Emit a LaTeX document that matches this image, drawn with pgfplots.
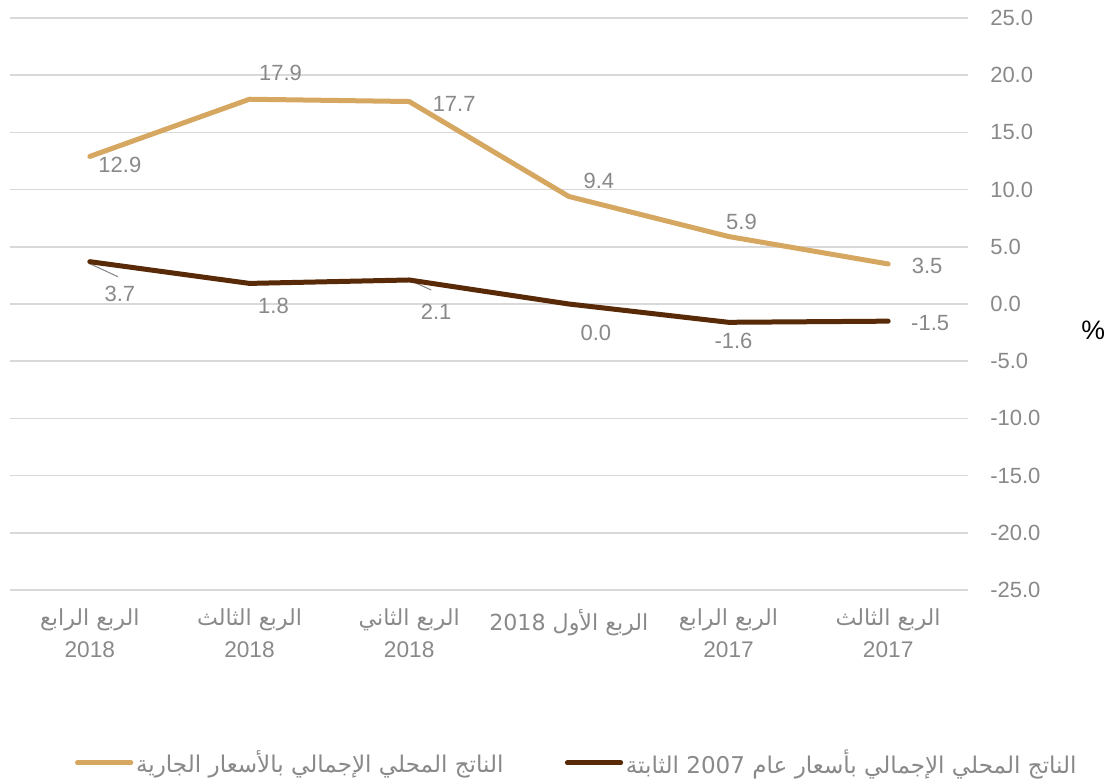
\documentclass[border=0pt]{standalone}
\usepackage{fontspec}
\setmainfont{Liberation Sans}
\newfontfamily\arabicfont[Script=Arabic]{DejaVu Sans}
\usepackage{pgfplots}
\pgfplotsset{compat=1.18}
\TeXXeTstate=1

\definecolor{curcol}{RGB}{213,167,97}
\definecolor{constcol}{RGB}{88,42,8}
\definecolor{lbl}{RGB}{137,137,137}
\definecolor{gridc}{RGB}{217,217,217}

\newcommand{\yr}[1]{{\fontsize{17}{22.5}\selectfont #1}}

\begin{document}
\begin{tikzpicture}
\useasboundingbox (-7.5pt,-144pt) rectangle (829.5pt,442.5pt);
\begin{axis}[
  scale only axis, width=718.5pt, height=429pt,
  xmin=-0.5, xmax=5.5, ymin=-25, ymax=25,
  clip=false,
  ytick={-25,-20,...,25},
  xtick={0,...,5},
  xticklabels={
    {{\arabicfont\beginR الربع الرابع\endR}\\\yr{2018}},
    {{\arabicfont\beginR الربع الثالث\endR}\\\yr{2018}},
    {{\arabicfont\beginR الربع الثاني\endR}\\\yr{2018}},
    {{\arabicfont\beginR الربع الأول \beginL2018\endL\endR}},
    {{\arabicfont\beginR الربع الرابع\endR}\\\yr{2017}},
    {{\arabicfont\beginR الربع الثالث\endR}\\\yr{2017}}},
  axis line style={draw=none},
  major tick length=0pt,
  ymajorgrids, grid style={gridc, line width=1.2pt},
  yticklabel pos=right,
  yticklabel style={anchor=west, inner sep=0pt, xshift=16.5pt,
    font=\fontsize{16.5}{20}\selectfont,
    /pgf/number format/.cd, fixed, fixed zerofill, precision=1},
  /pgf/number format/assume math mode=true,
  xticklabel style={anchor=north, inner sep=0pt, yshift=-14pt, align=center,
    font=\fontsize{16.6}{23.5}\selectfont},
  tick label style={lbl},
  legend columns=2,
  legend style={at={(rel axis cs:0.592,-0.302)}, anchor=center, draw=none,
    font=\fontsize{17.3}{19}\selectfont, text=lbl, inner sep=0pt,
    /tikz/every even column/.append style={column sep=44pt}},
  legend image code/.code={\draw[#1, line cap=round] (0pt,0pt) -- (40pt,0pt);},
]
\addplot[color=curcol, line width=3.75pt, line join=round, line cap=round, mark=none]
  coordinates {(0,12.9) (1,17.9) (2,17.7) (3,9.4) (4,5.9) (5,3.5)};
\addlegendentry{{\arabicfont\beginR الناتج المحلي الإجمالي بالأسعار الجارية\endR}}

\draw[lbl, line width=0.8pt] ([yshift=-1.5pt]axis cs:0,3.7) -- ++(21pt,-9.75pt);
\draw[lbl, line width=0.8pt] (axis cs:2,2.1) -- ++(16.5pt,-7.5pt);

\addplot[color=constcol, line width=3.75pt, line join=round, line cap=round, mark=none]
  coordinates {(0,3.7) (1,1.8) (2,2.1) (3,0.0) (4,-1.6) (5,-1.5)};
\addlegendentry{{\arabicfont\beginR الناتج المحلي الإجمالي بأسعار عام \beginL2007\endL{} الثابتة\endR}}

\tikzset{dl/.style={lbl, font=\fontsize{16.5}{18}\selectfont, inner sep=0pt}}
\node[dl, xshift=22.5pt, yshift=-6pt] at (axis cs:0,12.9) {12.9};
\node[dl, xshift=23.25pt, yshift=19.5pt] at (axis cs:1,17.9) {17.9};
\node[dl, xshift=33.75pt, yshift=-1.5pt] at (axis cs:2,17.7) {17.7};
\node[dl, xshift=22.5pt, yshift=11.6pt] at (axis cs:3,9.4) {9.4};
\node[dl, xshift=9.75pt, yshift=10.9pt] at (axis cs:4,5.9) {5.9};
\node[dl, xshift=29.25pt, yshift=-1.5pt] at (axis cs:5,3.5) {3.5};

\node[dl, xshift=22.5pt, yshift=-24pt] at (axis cs:0,3.7) {3.7};
\node[dl, xshift=18pt, yshift=-17pt] at (axis cs:1,1.8) {1.8};
\node[dl, xshift=20.25pt, yshift=-24pt] at (axis cs:2,2.1) {2.1};
\node[dl, xshift=20.25pt, yshift=-21.75pt] at (axis cs:3,0.0) {0.0};
\node[dl, xshift=3.75pt, yshift=-14pt] at (axis cs:4,-1.6) {-1.6};
\node[dl, xshift=31.5pt, yshift=-1.5pt] at (axis cs:5,-1.5) {-1.5};

\node[font=\fontsize{20}{22}\selectfont, black] at (rel axis cs:1,0.5)
  [xshift=94pt, yshift=-19.5pt] {\%};
\end{axis}
\end{tikzpicture}
\end{document}
